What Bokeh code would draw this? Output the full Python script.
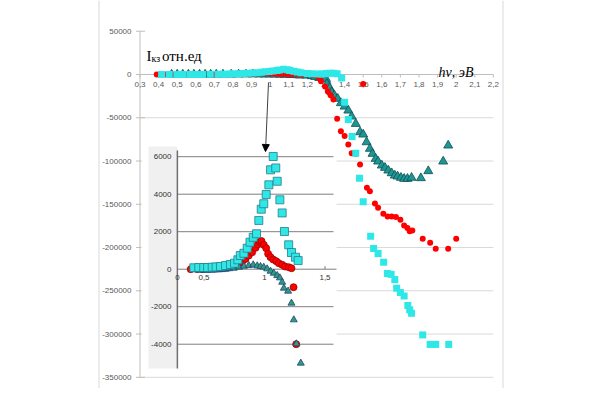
from bokeh.plotting import figure
from bokeh.models import Range1d, Arrow, NormalHead
from bokeh.core.properties import value
from bokeh.embed import file_html
from bokeh.resources import INLINE

# ---------------- data ----------------
x_ticks = [0.3, 0.4, 0.5, 0.6, 0.7, 0.8, 0.9, 1.0, 1.1, 1.2, 1.3, 1.4, 1.5, 1.6, 1.7, 1.8, 1.9, 2.0, 2.1, 2.2]
x_tick_labels = ["0,3", "0,4", "0,5", "0,6", "0,7", "0,8", "0,9", "1", "1,1", "1,2", "1,3", "1,4",
                 "1,5", "1,6", "1,7", "1,8", "1,9", "2", "2,1", "2,2"]
y_ticks = [50000, 0, -50000, -100000, -150000, -200000, -250000, -300000, -350000]
y_tick_labels = ["50000", "0", "-50000", "-100000", "-150000", "-200000", "-250000", "-300000", "-350000"]

inset_x_ticks = [0.28, 0.5, 1.0, 1.5]
inset_x_tick_labels = ["0", "0,5", "1", "1,5"]
inset_y_ticks = [6000, 4000, 2000, 0, -2000, -4000]
inset_y_tick_labels = ["6000", "4000", "2000", "0", "-2000", "-4000"]

# low-signal part (shown in the inset and along zero in the main chart)
red_lo_x = [0.39, 0.44, 0.49, 0.54, 0.59, 0.64, 0.69, 0.74, 0.78, 0.80, 0.82, 0.843, 0.87, 0.898, 0.926,
            0.945, 0.962, 0.975, 0.994, 1.014, 1.03, 1.05, 1.072, 1.097, 1.118, 1.146, 1.17, 1.20, 1.223,
            1.24, 1.262]
red_lo_y = [0, 10, 20, 30, 40, 60, 100, 170, 260, 370, 450, 550, 730, 900, 1140,
            1320, 1450, 1500, 1300, 1120, 820, 640, 517, 430, 320, 235, 144, 107, 53,
            -960, -4000]

cyan_lo_x = [0.416, 0.457, 0.498, 0.53, 0.568, 0.60, 0.636, 0.678, 0.719, 0.752, 0.78, 0.80, 0.83, 0.857,
             0.88, 0.907, 0.934, 0.953, 0.973, 0.994, 1.014, 1.036, 1.05, 1.072, 1.093, 1.105, 1.127,
             1.146, 1.165, 1.20, 1.223, 1.256, 1.278]
cyan_lo_y = [75, 90, 90, 90, 107, 120, 142, 195, 250, 320, 500, 730, 850, 1120,
             1440, 1700, 1890, 2600, 3200, 3490, 3980, 4500, 5300, 6010, 5400, 4690, 3700,
             3000, 2010, 1300, 890, 640, 460]

teal_lo_x = [0.47, 0.50, 0.53, 0.56, 0.59, 0.62, 0.65, 0.68, 0.71, 0.746, 0.79, 0.83, 0.87, 0.907, 0.94,
             0.967, 0.994, 1.022, 1.05, 1.077, 1.105, 1.127, 1.146, 1.16, 1.195, 1.223, 1.242, 1.264, 1.30]
teal_lo_y = [-60, -60, -50, -50, -40, -30, -20, 0, 30, 55, 107, 160, 197, 233, 180,
             144, 107, 20, -107, -213, -336, -460, -693, -1010, -1170, -1810, -2700, -3980, -5010]

# high-signal part (main chart only)
red_hi_x = [1.273, 1.295, 1.31, 1.325, 1.34, 1.36, 1.38, 1.40, 1.42, 1.438, 1.46, 1.483, 1.50, 1.52,
            1.536, 1.563, 1.58, 1.608, 1.631, 1.653, 1.676, 1.70, 1.72, 1.738, 1.75, 1.764, 1.82,
            1.86, 1.89, 1.957, 2.00]
red_hi_y = [-7700, -13900, -19600, -24000, -29000, -51000, -65500, -71000, -81000, -91000, -91600,
            -104000, -11000, -131000, -135000, -149000, -154000, -161000, -164000, -164000, -164800,
            -167800, -174400, -177500, -181300, -180200, -189800, -194400, -201300, -201300, -189800]

cyan_hi_x = [1.30, 1.32, 1.34, 1.36, 1.384, 1.40, 1.42, 1.44, 1.46, 1.48, 1.50, 1.54, 1.556, 1.58, 1.61,
             1.63, 1.65, 1.67, 1.68, 1.70, 1.72, 1.74, 1.75, 1.76, 1.82, 1.86, 1.89, 1.96]
cyan_hi_y = [1200, 1500, 1500, 1000, -4000, -32000, -52000, -71600, -91000, -120000, -147000, -187000,
             -201000, -207000, -217000, -230000, -231000, -237000, -247000, -252000, -256000, -267000,
             -272000, -276000, -301000, -312000, -312000, -312000]

teal_hi_x = [1.305, 1.32, 1.33, 1.345, 1.363, 1.38, 1.40, 1.42, 1.438, 1.46, 1.483, 1.50, 1.518, 1.536,
             1.55, 1.567, 1.58, 1.60, 1.617, 1.635, 1.653, 1.67, 1.685, 1.703, 1.72, 1.738, 1.76,
             1.81, 1.85, 1.93, 1.957]
teal_hi_y = [-10800, -15400, -20400, -24000, -28000, -33000, -37000, -41600, -48500, -57000, -66600,
             -69300, -78200, -85800, -91600, -97400, -100500, -105100, -107800, -110900, -114000,
             -116700, -117800, -119300, -120500, -120500, -119300, -119700, -111600, -100500, -82000]

# ---------------- layout helpers (image pixel -> data) ----------------
W, H = 580, 388
OX, OY = 0, 0   # where the figure's top-left lands in the page picture
def mx(px):
    return 0.3 + (px - 139.5) / 186.0
def my(py):
    return (74.0 - py) * 1155.8
def ix(px):
    return 1.0 + (px - 264.0) / 121.0
def iy(py):
    return (268.7 - py) * 53.33

p = figure(width=W, height=H, x_range=Range1d(mx(OX), mx(OX + W)), y_range=Range1d(my(OY + H), my(OY)),
           output_backend="svg", toolbar_location=None, x_axis_location=None, y_axis_location=None,
           min_border=0, outline_line_color=None, background_fill_color="white")
p.extra_x_ranges = {"ix": Range1d(ix(OX), ix(OX + W))}
p.extra_y_ranges = {"iy": Range1d(iy(OY + H), iy(OY))}
p.grid.visible = False

AX = "#bfbfbf"
TICKC = "#595959"
# outer chart-area border
p.segment(x0=[mx(98.5), mx(502.5)], y0=[my(OY), my(OY)], x1=[mx(98.5), mx(502.5)], y1=[my(OY + H), my(OY + H)],
          line_color="#d9d9d9", line_width=1)

# main grid
grid_y = [v for v in y_ticks if v < 0]
p.segment(x0=[x_ticks[0]] * len(grid_y), y0=grid_y, x1=[x_ticks[-1]] * len(grid_y), y1=grid_y,
          line_color="#d9d9d9", line_width=1)

# main y axis
p.segment(x0=[x_ticks[0]], y0=[y_ticks[-1]], x1=[x_ticks[0]], y1=[y_ticks[0]], line_color=AX, line_width=1)
p.segment(x0=[mx(135.5)] * len(y_ticks), y0=y_ticks, x1=[mx(144.5)] * len(y_ticks), y1=y_ticks,
          line_color=AX, line_width=1)
p.text(x=[mx(131)] * len(y_ticks), y=y_ticks, text=y_tick_labels, text_align="right", text_baseline="middle",
       text_font=value("Liberation Sans"), text_font_size="8px", text_color=TICKC)

# main x axis at zero
p.segment(x0=[x_ticks[0]], y0=[0], x1=[x_ticks[-1]], y1=[0], line_color=AX, line_width=1)
p.segment(x0=x_ticks, y0=[0] * len(x_ticks), x1=x_ticks, y1=[my(77)] * len(x_ticks), line_color=AX, line_width=1)
p.text(x=x_ticks, y=[my(84)] * len(x_ticks), text=x_tick_labels, text_align="center", text_baseline="middle",
       text_font=value("Liberation Sans"), text_font_size="8px", text_color=TICKC)

# ---------------- inset ----------------
IR = dict(x_range_name="ix", y_range_name="iy")
X0 = inset_x_ticks[0]
p.quad(left=[ix(141)], right=[ix(336)], top=[iy(142)], bottom=[iy(372)], fill_color="white", line_color=None, **IR)
p.quad(left=[ix(148)], right=[X0], top=[iy(146)], bottom=[iy(368)], fill_color="#f0f0f0", line_color=None, **IR)
ig = [v for v in inset_y_ticks if v != 0]
p.segment(x0=[X0] * len(ig), y0=ig, x1=[ix(333)] * len(ig), y1=ig, line_color="#7f7f7f", line_width=1, **IR)
p.segment(x0=[X0], y0=[0], x1=[ix(336)], y1=[0], line_color="#7f7f7f", line_width=1, **IR)
p.segment(x0=[X0], y0=[iy(368)], x1=[X0], y1=[iy(150)], line_color="#6f6f6f", line_width=1.5, **IR)
p.segment(x0=inset_x_ticks[1:], y0=[0] * 3, x1=inset_x_ticks[1:], y1=[iy(265.5)] * 3,
          line_color="#7f7f7f", line_width=1, **IR)
p.text(x=[ix(171)] * len(inset_y_ticks), y=inset_y_ticks, text=inset_y_tick_labels, text_align="right",
       text_baseline="middle", text_font=value("Liberation Sans"), text_font_size="8px", text_color="#333333", **IR)
p.text(x=inset_x_ticks, y=[iy(276.5)] * 4, text=inset_x_tick_labels, text_align="center",
       text_baseline="middle", text_font=value("Liberation Sans"), text_font_size="8px", text_color="#333333", **IR)

p.scatter(red_lo_x, red_lo_y, marker="circle", size=7, fill_color="#ff0000", line_color="#a00000",
          line_width=0.8, **IR)
p.scatter(teal_lo_x, teal_lo_y, marker="triangle", size=7, fill_color="#2f9e70", line_color="#203f86",
          line_width=0.8, **IR)
p.scatter(cyan_lo_x, cyan_lo_y, marker="square", size=8, fill_color="#33e6e6", line_color="#1f7f8c",
          line_width=0.8, **IR)

# ---------------- main series ----------------
p.scatter(teal_lo_x + teal_hi_x, teal_lo_y + teal_hi_y, marker="triangle", size=9, fill_color="#1e9696",
          line_color="#0e5050", line_width=0.8)
p.scatter(red_lo_x + red_hi_x, red_lo_y + red_hi_y, marker="circle", size=6, fill_color="#ff0000",
          line_color=None)
p.scatter(cyan_lo_x + cyan_hi_x, cyan_lo_y + cyan_hi_y, marker="square", size=7, fill_color="#2ee8e8",
          line_color=None)

# ---------------- texts ----------------
SERIF = value("Liberation Serif")
p.text(x=[mx(146)], y=[my(55.5)], text=["I"], text_font=SERIF, text_font_size="15px",
       text_baseline="alphabetic", text_color="black")
p.text(x=[mx(151)], y=[my(57.5)], text=["кз"], text_font=SERIF, text_font_size="10px",
       text_baseline="alphabetic", text_color="black")
p.text(x=[mx(161.5)], y=[my(55.5)], text=["отн.ед"], text_font=SERIF, text_font_size="15px",
       text_baseline="alphabetic", text_color="black")
p.text(x=[mx(438)], y=[my(72)], text=["hν, эВ"], text_font=SERIF, text_font_size="14px",
       text_font_style="italic", text_baseline="alphabetic", text_color="black")

p.add_layout(Arrow(end=NormalHead(size=7, fill_color="black", line_color="black"),
                   x_start=mx(268), y_start=my(82), x_end=mx(265), y_end=my(151),
                   line_color="#404040", line_width=1))

open("out.html", "w").write(file_html(p, INLINE))
